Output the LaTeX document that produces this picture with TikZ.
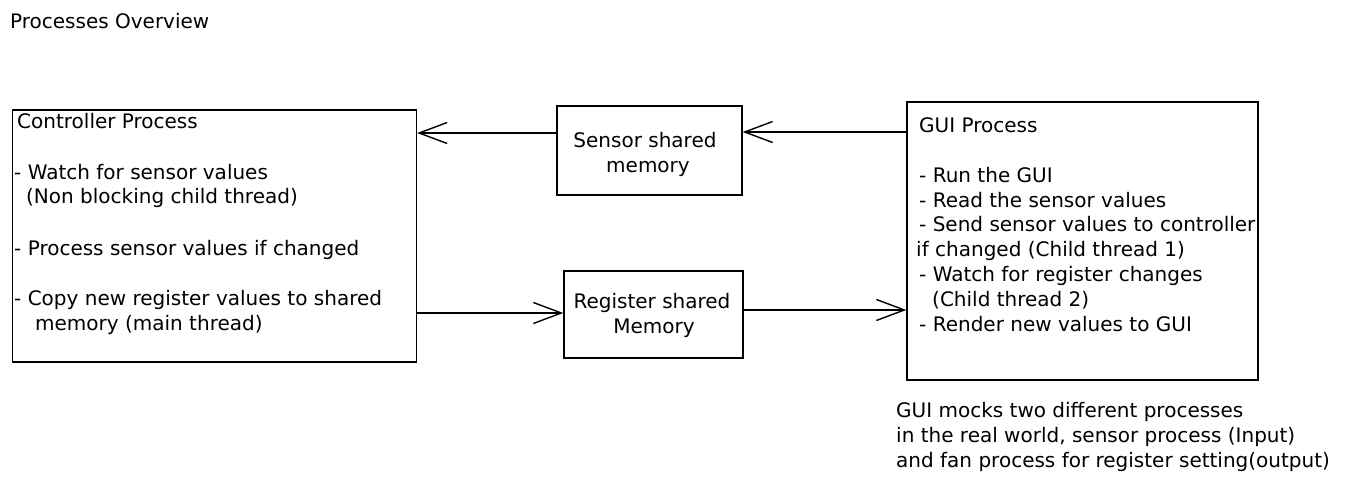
\documentclass[tikz,border=0pt]{standalone}
\usepackage{fontspec}
\setmainfont{DejaVu Sans}
\usetikzlibrary{arrows.meta}
\begin{document}
\begin{tikzpicture}[x=1pt,y=-1pt,
  box/.style={draw, line width=1.3pt, inner sep=0pt, rectangle},
  txt/.style={anchor=base west, inner sep=0pt, font=\fontsize{20}{25}\selectfont},
  ctxt/.style={anchor=base, inner sep=0pt, font=\fontsize{20}{25}\selectfont},
  arr/.style={line width=1.4pt, -{Straight Barb[length=28pt,width=21pt,line width=1.4pt]}}]
\useasboundingbox (0,0) rectangle (1351,491);

% title
\node[txt] (title) at (10,28) {Processes Overview};

% boxes
\node[box, minimum width=404pt, minimum height=252pt] (ctrl) at (214.5,236) {};
\node[box, minimum width=185pt, minimum height=89pt] (sensor) at (649.5,150.5) {};
\node[box, minimum width=179pt, minimum height=87pt] (reg) at (653.5,314.5) {};
\node[box, minimum width=351pt, minimum height=278pt] (gui) at (1082.5,241) {};

% controller text
\node[txt] (c1) at (17,128) {Controller Process};
\node[txt] (c2) at (14,179) {- Watch for sensor values};
\node[txt] (c3) at (26,203) {(Non blocking child thread)};
\node[txt] (c4) at (14,255) {- Process sensor values if changed};
\node[txt] (c5) at (14,305) {- Copy new register values to shared};
\node[txt] (c6) at (35,330) {memory (main thread)};

% shared memory texts
\node[ctxt] (s1) at (645,147) {Sensor shared};
\node[ctxt] (s2) at (648,172) {memory};
\node[ctxt] (r1) at (652,308) {Register shared};
\node[ctxt] (r2) at (654,333) {Memory};

% GUI text
\node[txt] (g1) at (919,132) {GUI Process};
\node[txt] (g2) at (919,182) {- Run the GUI};
\node[txt] (g3) at (919,207) {- Read the sensor values};
\node[txt] (g4) at (919,231) {- Send sensor values to controller};
\node[txt] (g5) at (916,256) {if changed (Child thread 1)};
\node[txt] (g6) at (919,281) {- Watch for register changes};
\node[txt] (g7) at (932,306) {(Child thread 2)};
\node[txt] (g8) at (919,331) {- Render new values to GUI};

% note
\node[txt] (n1) at (896,417) {GUI mocks two different processes};
\node[txt] (n2) at (896,442) {in the real world, sensor process (Input)};
\node[txt] (n3) at (896,467) {and fan process for register setting(output)};

% arrows
\draw[arr] (gui.west |- 0,132) -- (sensor.east |- 0,132);
\draw[arr] (sensor.west |- 0,133) -- (ctrl.east |- 0,133);
\draw[arr] (ctrl.east |- 0,313) -- (reg.west |- 0,313);
\draw[arr] (reg.east |- 0,310) -- (gui.west |- 0,310);
\end{tikzpicture}
\end{document}
